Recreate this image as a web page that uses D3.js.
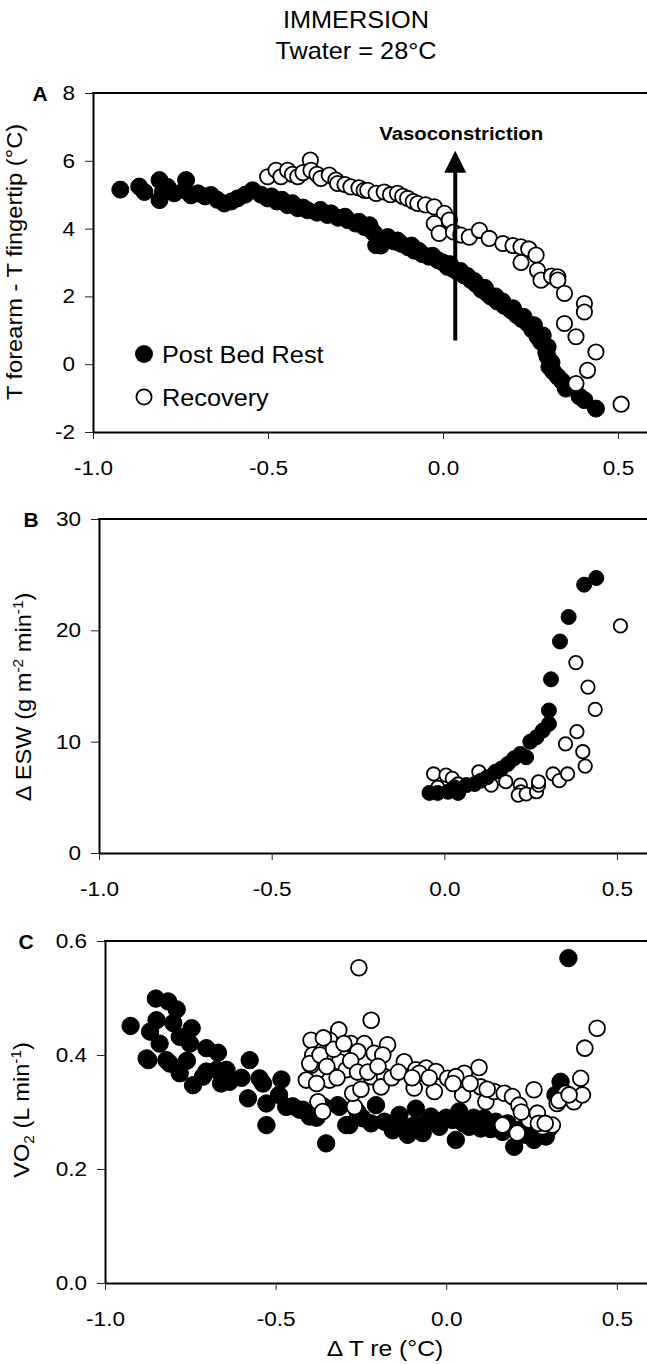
<!DOCTYPE html>
<html><head><meta charset="utf-8">
<script src="https://cdn.jsdelivr.net/npm/d3@7"></script>
<style>
body{margin:0;background:#fff}
svg{display:block}
text{font-family:"Liberation Sans",Arial,Helvetica,sans-serif;fill:#000}
</style>
</head><body>
<svg id="chart" width="647" height="1364"></svg>
<script>
// ---------------- DATA ----------------
const xTickValues = [-1.0, -0.5, 0.0, 0.5];
const aYTickValues = [-2, 0, 2, 4, 6, 8];
const bYTickValues = [0, 10, 20, 30];
const cYTickValues = [0.0, 0.2, 0.4, 0.6];

const seriesNames = ["Post Bed Rest", "Recovery"];
const titleLines = ["IMMERSION", "Twater = 28°C"];
const panelLetters = ["A", "B", "C"];

// Panel A: T forearm - T fingertip (°C) vs ΔT re
const aPost = [[-0.922,5.15],[-0.868,5.24],[-0.853,5.08],[-0.81,5.43],[-0.81,4.84],[-0.80,5.1],[-0.787,5.23],[-0.768,5.04],[-0.739,5.13],[-0.734,5.43],[-0.72,4.98],[-0.70,5.04],[-0.68,4.95],[-0.663,4.99],[-0.645,4.85],[-0.625,4.74],[-0.605,4.8],[-0.587,4.89],[-0.565,5.0],[-0.544,5.13],[-0.52,5.0],[-0.501,4.89],[-0.475,4.8],[-0.444,4.69],[-0.415,4.6],[-0.387,4.54],[-0.36,4.47],[-0.33,4.40],[-0.30,4.32],[-0.272,4.25],[-0.25,4.15],[-0.225,4.05],[-0.205,3.95],[-0.196,3.86],[-0.191,3.51],[-0.177,3.5],[-0.158,3.75],[-0.14,3.62],[-0.12,3.55],[-0.10,3.45],[-0.082,3.35],[-0.06,3.25],[-0.04,3.17],[-0.015,3.07],[0.013,2.87],[0.03,2.8],[0.042,2.72],[0.06,2.62],[0.08,2.48],[0.095,2.36],[0.11,2.2],[0.125,2.1],[0.137,1.99],[0.155,1.85],[0.175,1.72],[0.194,1.59],[0.21,1.45],[0.225,1.33],[0.242,1.20],[0.255,1.02],[0.27,0.81],[0.28,0.66],[0.299,0.51],[0.299,0.22],[0.304,-0.08],[0.315,-0.22],[0.328,-0.37],[0.351,-0.72],[0.39,-0.95],[0.404,-1.06],[0.437,-1.31],
  [-0.49,4.95],[-0.46,4.85],[-0.43,4.75],[-0.40,4.62],[-0.35,4.55],[-0.32,4.45],[-0.28,4.35],[-0.24,4.2],[-0.21,4.1],[-0.17,3.7],[-0.13,3.65],[-0.09,3.5],[-0.07,3.35],[-0.03,3.2],[0.0,3.0],[0.02,2.95],[0.05,2.75],[0.07,2.6],[0.09,2.45],[0.12,2.25],[0.15,2.0],[0.17,1.85],[0.2,1.65],[0.23,1.4],[0.26,1.15],[0.285,0.85],[0.295,0.35],[0.31,0.05],[0.34,-0.5]];
const aRecovery = [[-0.501,5.53],[-0.477,5.72],[-0.463,5.53],[-0.444,5.72],[-0.43,5.6],[-0.415,5.53],[-0.40,5.65],[-0.379,6.02],[-0.377,5.72],[-0.36,5.6],[-0.349,5.48],[-0.325,5.58],[-0.306,5.43],[-0.301,5.33],[-0.28,5.3],[-0.263,5.23],[-0.24,5.2],[-0.225,5.13],[-0.215,5.13],[-0.191,5.04],[-0.168,5.08],[-0.15,5.0],[-0.13,5.04],[-0.115,4.95],[-0.101,4.89],[-0.085,4.8],[-0.072,4.74],[-0.05,4.7],[-0.025,4.64],[0.004,4.45],[0.018,4.25],[-0.025,4.15],[-0.011,3.86],[0.03,3.9],[0.051,3.81],[0.075,3.75],[0.104,3.95],[0.132,3.71],[0.171,3.56],[0.2,3.5],[0.223,3.46],[0.245,3.4],[0.266,3.22],[0.223,3.0],[0.27,2.77],[0.28,2.48],[0.31,2.6],[0.328,2.58],[0.328,2.48],[0.347,2.09],[0.404,1.79],[0.404,1.54],[0.347,1.2],[0.38,0.81],[0.437,0.36],[0.413,-0.18],[0.38,-0.57],[0.509,-1.18]];
const arrowX = 0.035, arrowFromY = 0.7, arrowToY = 6.3;
const arrowLabel = "Vasoconstriction";

// Panel B: Δ ESW
const bPost = [[-0.043,5.4],[-0.019,5.4],[0.011,5.5],[0.04,5.4],[0.029,5.9],[0.064,6.1],[0.088,6.2],[0.106,6.5],[0.124,6.8],[0.148,7.3],[0.166,7.6],[0.184,8.0],[0.202,8.5],[0.22,8.9],[0.237,8.6],[0.249,10.0],[0.267,10.4],[0.285,11.0],[0.303,11.6],[0.303,12.8],[0.309,15.6],[0.335,19.0],[0.36,21.2],[0.405,24.1],[0.44,24.7]];
const bRecovery = [[-0.031,7.1],[0.005,7.0],[0.023,6.7],[0.04,6.2],[-0.019,5.9],[0.1,7.3],[0.136,6.1],[0.178,6.4],[0.22,6.1],[0.222,5.5],[0.214,5.2],[0.237,5.3],[0.267,5.5],[0.273,6.1],[0.273,6.4],[0.315,7.1],[0.333,6.5],[0.357,7.1],[0.351,9.8],[0.384,10.9],[0.401,9.1],[0.408,7.8],[0.437,12.9],[0.416,14.9],[0.381,17.1],[0.51,20.4]];

// Panel C: VO2
const cPost = [[-0.925,0.451],[-0.851,0.499],[-0.815,0.494],[-0.868,0.441],[-0.849,0.461],[-0.80,0.456],[-0.746,0.447],[-0.781,0.432],[-0.751,0.42],[-0.703,0.412],[-0.669,0.404],[-0.878,0.394],[-0.82,0.391],[-0.576,0.391],[-0.703,0.371],[-0.644,0.374],[-0.547,0.359],[-0.483,0.357],[-0.873,0.391],[-0.81,0.385],[-0.781,0.368],[-0.742,0.347],[-0.713,0.362],[-0.673,0.374],[-0.635,0.353],[-0.581,0.324],[-0.537,0.35],[-0.527,0.315],[-0.527,0.277],[-0.469,0.309],[-0.42,0.304],[-0.40,0.298],[-0.352,0.245],[-0.293,0.277],[-0.313,0.309],[-0.43,0.304],[-0.40,0.292],[-0.318,0.312],[-0.284,0.277],[-0.245,0.289],[-0.206,0.312],[-0.181,0.283],[-0.157,0.268],[-0.137,0.295],[-0.113,0.26],[-0.094,0.277],[-0.069,0.263],[-0.089,0.306],[-0.045,0.292],[-0.02,0.274],[0.018,0.286],[0.028,0.251],[0.038,0.301],[0.067,0.274],[0.101,0.271],[0.111,0.289],[0.145,0.283],[0.165,0.265],[0.199,0.239],[0.233,0.26],[0.257,0.251],[0.292,0.257],[0.335,0.353],[0.358,0.57],
  [-0.38,0.29],[-0.36,0.31],[-0.26,0.30],[-0.22,0.28],[-0.14,0.28],[-0.06,0.28],[0.0,0.29],[0.05,0.28],[0.08,0.29],[0.13,0.27],[0.18,0.28],[0.22,0.27],[0.27,0.26],[0.30,0.27],[0.32,0.33],[-0.45,0.31],[-0.49,0.33],[-0.60,0.36],[-0.66,0.35],[-0.76,0.39],[-0.84,0.42],[-0.79,0.48]];
const cRecovery = [[-0.256,0.553],[-0.22,0.461],[-0.315,0.444],[-0.396,0.426],[-0.342,0.426],[-0.279,0.42],[-0.24,0.42],[-0.172,0.418],[-0.211,0.403],[-0.391,0.4],[-0.308,0.4],[-0.259,0.406],[-0.396,0.382],[-0.313,0.388],[-0.186,0.4],[-0.123,0.388],[0.096,0.378],[-0.089,0.374],[-0.059,0.377],[-0.03,0.371],[0.053,0.368],[0.442,0.447],[0.406,0.412],[0.394,0.359],[-0.40,0.385],[-0.41,0.356],[-0.342,0.356],[-0.376,0.318],[-0.362,0.301],[-0.293,0.374],[-0.269,0.309],[-0.274,0.333],[-0.22,0.362],[-0.181,0.362],[-0.191,0.344],[-0.094,0.342],[-0.079,0.368],[-0.035,0.336],[0.004,0.359],[0.028,0.362],[0.048,0.33],[0.101,0.344],[0.116,0.318],[0.14,0.336],[0.17,0.333],[0.194,0.327],[0.213,0.312],[0.165,0.277],[0.208,0.263],[0.243,0.286],[0.257,0.339],[0.267,0.298],[0.282,0.274],[0.311,0.277],[0.325,0.315],[0.35,0.333],[0.374,0.318],[0.399,0.33],
  [-0.37,0.40],[-0.35,0.38],[-0.33,0.41],[-0.30,0.42],[-0.28,0.39],[-0.26,0.37],[-0.25,0.34],[-0.23,0.37],[-0.20,0.38],[-0.16,0.36],[-0.14,0.37],[-0.10,0.36],[-0.05,0.36],[0.02,0.35],[0.07,0.35],[0.12,0.34],[0.22,0.30],[0.27,0.28],[0.29,0.28],[0.33,0.32],[0.36,0.33],[-0.38,0.35],[-0.32,0.36],[-0.36,0.43]];

// ---------------- DRAW ----------------
const svg = d3.select("#chart");
const FONT_STRETCH = 1.1;

function stretchText(sel, k) {
  sel.each(function () {
    const t = d3.select(this);
    const x = +t.attr("x") || 0, y = +t.attr("y") || 0;
    t.attr("transform", `translate(${x},${y}) scale(${k},1) translate(${-x},${-y})`);
  });
}

// Title
svg.selectAll("text.title").data(titleLines).join("text")
  .attr("class", "title")
  .attr("x", 356).attr("y", (d, i) => 28 + i * 31)
  .attr("text-anchor", "middle").style("font-size", "23px")
  .text(d => d)
  .call(stretchText, FONT_STRETCH);

const panels = [
  { letter: panelLetters[0], left: 93, right: 653, top: 93, bottom: 432, yDomain: [-2, 8], yTicks: aYTickValues,
    yFmt: d => String(d), post: aPost, rec: aRecovery, r: 8.5, recOnTop: true, letterX: 40 },
  { letter: panelLetters[1], left: 99, right: 651.5, top: 519, bottom: 853, yDomain: [0, 30], yTicks: bYTickValues,
    yFmt: d => String(d), post: bPost, rec: bRecovery, r: 7.5, recOnTop: false, letterX: 31 },
  { letter: panelLetters[2], left: 105, right: 651, top: 941, bottom: 1283, yDomain: [0, 0.6], yTicks: cYTickValues,
    yFmt: d => d.toFixed(1), post: cPost, rec: cRecovery, r: 8.7, recOnTop: true, letterX: 26 }
];

panels.forEach(p => {
  const x = d3.scaleLinear().domain([-1, 0.6]).range([p.left, p.right]);
  const y = d3.scaleLinear().domain(p.yDomain).range([p.bottom, p.top]);
  p.x = x; p.y = y;
  const g = svg.append("g");

  const yAxis = g.append("g").attr("transform", `translate(${p.left},0)`)
    .call(d3.axisLeft(y).tickValues(p.yTicks).tickFormat(p.yFmt).tickSize(8).tickSizeOuter(0).tickPadding(10));
  const xAxis = g.append("g").attr("transform", `translate(0,${p.bottom})`)
    .call(d3.axisBottom(x).tickValues(xTickValues).tickFormat(d => d.toFixed(1)).tickSize(7).tickSizeOuter(0).tickPadding(21));
  [yAxis, xAxis].forEach(ax => {
    ax.attr("font-family", null).attr("font-size", null);
    ax.select(".domain").attr("stroke", "#000").attr("stroke-width", 2);
    ax.selectAll(".tick line").attr("stroke", "#222").attr("stroke-width", 1);
    ax.selectAll(".tick text").style("font-size", "20.5px").attr("fill", "#000");
  });
  yAxis.selectAll(".tick text").call(stretchText, FONT_STRETCH);
  xAxis.selectAll(".tick text").call(stretchText, FONT_STRETCH);

  g.append("line").attr("x1", p.left - 1).attr("x2", p.right).attr("y1", p.top).attr("y2", p.top)
    .attr("stroke", "#000").attr("stroke-width", 2);

  g.append("text").attr("x", p.letterX).attr("y", y(p.yDomain[1]) + 7.5)
    .attr("text-anchor", "middle").style("font-size", "21px").style("font-weight", "bold")
    .text(p.letter);

  const drawPost = () => g.append("g").selectAll("circle").data(p.post).join("circle")
    .attr("cx", d => x(d[0])).attr("cy", d => y(d[1])).attr("r", p.r)
    .attr("fill", "#000").attr("stroke", "#000").attr("stroke-width", 1);
  const drawRec = () => g.append("g").selectAll("circle").data(p.rec).join("circle")
    .attr("cx", d => x(d[0])).attr("cy", d => y(d[1])).attr("r", p.r - 0.8)
    .attr("fill", "#fff").attr("stroke", "#000").attr("stroke-width", 1.8);
  if (p.recOnTop) { drawPost(); drawRec(); } else { drawRec(); drawPost(); }
});

// Panel A extras: arrow + legend
(function () {
  const p = panels[0];
  const ax = p.x(arrowX), y1 = p.y(arrowFromY), y2 = p.y(arrowToY);
  const headLen = 22, headHalf = 11;
  svg.append("line").attr("x1", ax).attr("x2", ax).attr("y1", y1).attr("y2", y2 + headLen - 2)
    .attr("stroke", "#000").attr("stroke-width", 4);
  svg.append("path")
    .attr("d", `M${ax},${y2} L${ax + headHalf},${y2 + headLen} L${ax - headHalf},${y2 + headLen} Z`)
    .attr("fill", "#000");
  svg.append("text").attr("x", ax + 6).attr("y", y2 - 11).attr("text-anchor", "middle")
    .style("font-size", "18.5px").style("font-weight", "bold").text(arrowLabel)
    .call(stretchText, 1.1);

  const leg = svg.append("g");
  const legY = [354, 397];
  leg.append("circle").attr("cx", 144).attr("cy", legY[0]).attr("r", 9).attr("fill", "#000");
  leg.append("circle").attr("cx", 144).attr("cy", legY[1]).attr("r", 7.6).attr("fill", "#fff")
    .attr("stroke", "#000").attr("stroke-width", 1.8);
  leg.selectAll("text").data(seriesNames).join("text")
    .attr("x", 162).attr("y", (d, i) => legY[i] + 9)
    .style("font-size", "23px").text(d => d)
    .call(stretchText, FONT_STRETCH);
})();

// Axis titles
function rotLabel(cx, cy, build) {
  const t = svg.append("text")
    .attr("transform", `translate(${cx},${cy}) rotate(-90) scale(${FONT_STRETCH},1)`)
    .attr("text-anchor", "middle").style("font-size", "21.5px");
  build(t);
}
rotLabel(22, 262, t => t.text("T forearm - T fingertip (°C)"));
rotLabel(31, 697, t => {
  t.append("tspan").text("Δ ESW (g m");
  t.append("tspan").attr("dy", -8).style("font-size", "14px").text("-2");
  t.append("tspan").attr("dy", 8).text(" min");
  t.append("tspan").attr("dy", -8).style("font-size", "14px").text("-1");
  t.append("tspan").attr("dy", 8).text(")");
});
rotLabel(29, 1110, t => {
  t.append("tspan").text("VO");
  t.append("tspan").attr("dy", 5).style("font-size", "14px").text("2");
  t.append("tspan").attr("dy", -5).text(" (L min");
  t.append("tspan").attr("dy", -8).style("font-size", "14px").text("-1");
  t.append("tspan").attr("dy", 8).text(")");
});
svg.append("text").attr("x", 385).attr("y", 1356).attr("text-anchor", "middle")
  .style("font-size", "21.5px").text("Δ T re (°C)").call(stretchText, 1.15);
</script>
</body></html>
